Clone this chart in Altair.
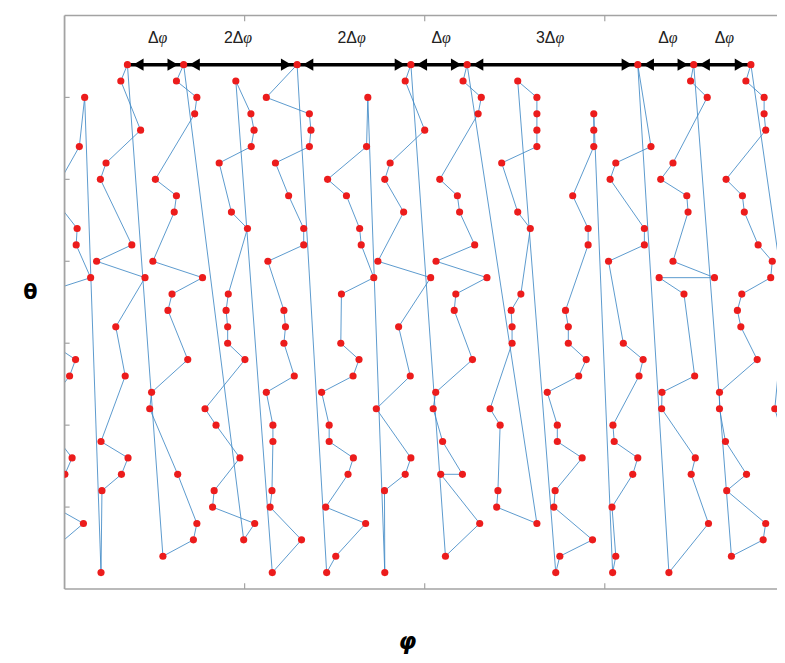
import altair as alt
import pandas as pd

# ---- trajectory columns (phi in degrees, theta = sample row), listed bottom -> top ----
c0_phi = [-6.3, 6.0, -3.2, 0.1, 2.4, -1.6, -6.3, 1.6, 3.5, -4.4, -7.9, 8.3, 3.7, 4.0, -4.1, 4.7, 6.4]
c0_theta = [30, 28, 27, 25, 24, 23, 21, 19, 18, 17, 14, 13, 11, 10, 8, 5, 2]
c1_phi = [11.6, 11.9, 18.1, 20.2, 11.6, 19.3, 16.3, 25.6, 10.2, 21.4, 11.4, 13.2, 24.2, 17.9, 20.0]
c1_theta = [31, 26, 25, 24, 23, 19, 16, 13, 12, 11, 7, 6, 4, 1, 0]
c2_phi = [31.3, 41.0, 42.1, 36.0, 27.1, 27.7, 39.2, 32.9, 34.2, 43.9, 28.1, 34.9, 35.6, 28.9, 41.4, 42.1, 35.6, 37.9]
c2_theta = [30, 29, 28, 25, 21, 20, 18, 15, 14, 13, 12, 9, 8, 7, 3, 2, 1, 0]
c3_phi = [57.0, 60.5, 47.1, 47.6, 55.8, 48.2, 44.7, 57.4, 51.9, 51.9, 51.4, 52.1, 58.2, 53.1, 49.2, 59.4, 60.3, 59.3, 54.5]
c3_theta = [29, 28, 27, 26, 24, 22, 21, 18, 17, 16, 15, 14, 10, 9, 6, 5, 4, 3, 1]
c4_phi = [66.1, 75.4, 65.4, 66.0, 66.3, 66.3, 64.2, 73.1, 69.8, 70.3, 69.8, 64.7, 76.1, 76.1, 71.3, 67.1, 77.9, 78.4, 77.9, 64.2, 74.0]
c4_theta = [31, 29, 27, 26, 23, 22, 20, 19, 17, 16, 15, 12, 11, 10, 8, 6, 5, 4, 3, 2, 0]
c5_phi = [83.4, 86.3, 95.8, 83.1, 90.2, 91.9, 84.2, 84.2, 81.8, 91.8, 93.7, 87.9, 88.1, 98.4, 94.4, 93.9, 89.7, 83.7, 96.1, 96.5]
c5_theta = [31, 30, 28, 27, 25, 24, 23, 22, 20, 19, 18, 17, 14, 13, 11, 10, 8, 7, 5, 2]
c6_phi = [101.9, 101.8, 108.4, 110.2, 99.2, 110.0, 106.3, 116.5, 99.7, 107.9, 101.9, 103.6, 114.6, 108.4, 110.2]
c6_theta = [31, 26, 25, 24, 21, 19, 16, 13, 12, 9, 7, 6, 4, 1, 0]
c7_phi = [121.2, 132.1, 119.7, 126.6, 120.3, 117.3, 118.1, 129.8, 124.0, 124.5, 134.4, 118.2, 130.5, 125.7, 125.0, 119.4, 131.6, 132.6, 126.8, 128.1]
c7_theta = [30, 28, 25, 25, 23, 21, 20, 18, 15, 14, 13, 12, 11, 9, 8, 7, 3, 2, 1, 0]
c8_phi = [150.3, 137.5, 137.9, 138.6, 135.4, 142.4, 142.4, 142.1, 145.2, 148.2, 144.2, 139.1, 150.3, 150.3, 150.3, 150.3, 144.2]
c8_theta = [28, 27, 26, 22, 21, 17, 16, 15, 14, 10, 9, 6, 5, 4, 3, 2, 1]
c9_phi = [156.3, 157.6, 168.0, 155.7, 156.1, 164.7, 156.8, 156.8, 153.6, 163.6, 166.0, 160.3, 160.3, 159.4, 166.6, 166.6, 161.7, 168.4, 168.4, 168.4]
c9_theta = [31, 30, 29, 27, 26, 24, 23, 22, 20, 19, 18, 17, 16, 15, 11, 10, 8, 5, 4, 3]
c10_phi = [174.4, 175.4, 174.2, 180.8, 182.4, 174.9, 174.5, 182.8, 184.1, 177.8, 173.1, 184.5, 184.5, 173.6, 175.4, 186.6, 182.4]
c10_theta = [31, 30, 27, 25, 24, 23, 22, 19, 18, 17, 12, 11, 10, 7, 6, 5, 0]
c11_phi = [192.3, 204.9, 199.4, 200.7, 190.0, 190.1, 200.5, 197.1, 189.2, 206.8, 193.6, 198.4, 198.0, 189.7, 193.6, 204.5, 199.2, 200.2]
c11_theta = [31, 28, 25, 24, 21, 20, 19, 14, 13, 13, 12, 9, 8, 7, 6, 2, 1, 0]
c12_phi = [212.2, 222.3, 223.1, 210.7, 217.0, 210.3, 208.4, 208.4, 220.4, 215.2, 214.1, 215.5, 224.7, 225.2, 220.7, 216.3, 215.7, 210.5, 223.1, 222.6, 222.6, 216.8, 218.4]
c12_theta = [30, 29, 28, 26, 25, 23, 21, 20, 18, 16, 15, 14, 13, 12, 11, 9, 8, 7, 4, 3, 2, 1, 0]
c13_phi = [241.5, 226.0, 236.4]
c13_theta = [31, 21, 0]

# ---- annotation arrows between the top-row samples ----
arrow_start = [20.0, 37.9, 74.0, 110.2, 128.1, 182.4, 200.2]
arrow_end = [37.9, 74.0, 110.2, 128.1, 182.4, 200.2, 218.4]
arrow_prefix = ["Δ", "2Δ", "2Δ", "Δ", "3Δ", "Δ", "Δ"]

# ---- frame ticks ----
phi_ticks = [57.3, 114.6, 171.9]
theta_ticks = [2, 7, 12, 17, 22, 27]
PHI_MAX = 226.7
THETA_MIN, THETA_MAX = -3, 32

cols_phi = [c0_phi, c1_phi, c2_phi, c3_phi, c4_phi, c5_phi, c6_phi, c7_phi,
            c8_phi, c9_phi, c10_phi, c11_phi, c12_phi, c13_phi]
cols_theta = [c0_theta, c1_theta, c2_theta, c3_theta, c4_theta, c5_theta, c6_theta, c7_theta,
              c8_theta, c9_theta, c10_theta, c11_theta, c12_theta, c13_theta]

records = []
seq = 0
for k, (ps, ts) in enumerate(zip(cols_phi, cols_theta)):
    for p, t in zip(ps, ts):
        records.append({"phi": p, "theta": t, "seq": seq, "col": k})
        seq += 1
df = pd.DataFrame(records)

arrows = pd.DataFrame({"phi": arrow_start, "phi2": arrow_end, "prefix": arrow_prefix,
                       "theta": [0] * len(arrow_start), "label_theta": [-1.65] * len(arrow_start)})

xs = alt.Scale(domain=[0, PHI_MAX], nice=False, zero=False)
ys = alt.Scale(domain=[THETA_MIN, THETA_MAX], reverse=True, nice=False, zero=False)

frame_col = "#a3a3a3"

x_axis = alt.Axis(title="φ", labels=False, ticks=False, grid=False, domain=False,
                  titleFont="DejaVu Sans", titleFontSize=23, titleFontWeight="bold",
                  titleFontStyle="italic", titleColor="black", titleX=345, titleY=53,
                  titleAlign="center", titleBaseline="middle")
y_axis = alt.Axis(title="θ", labels=False, ticks=False, grid=False, domain=False,
                  titleFont="DejaVu Sans", titleFontSize=21, titleFontWeight="bold",
                  titleColor="black", titleAngle=0, titleX=-35, titleY=279,
                  titleAlign="center", titleBaseline="middle")

lines = alt.Chart(df).mark_line(color="#3f88c5", strokeWidth=1.0, opacity=0.85, clip=True).encode(
    x=alt.X("phi:Q", scale=xs, axis=x_axis),
    y=alt.Y("theta:Q", scale=ys, axis=y_axis),
    order=alt.Order("seq:Q"),
)

points = alt.Chart(df).mark_circle(size=52, color="#ec1c1c", opacity=1, clip=True).encode(
    x=alt.X("phi:Q", scale=xs, axis=None),
    y=alt.Y("theta:Q", scale=ys, axis=None),
)

shafts = alt.Chart(arrows).mark_rule(color="black", strokeWidth=3.5).encode(
    x=alt.X("phi:Q", scale=xs, axis=None),
    x2="phi2:Q",
    y=alt.Y("theta:Q", scale=ys, axis=None),
)
heads_left = alt.Chart(arrows).mark_point(shape="triangle-left", filled=True, size=150,
                                          color="black", opacity=1, xOffset=11).encode(
    x=alt.X("phi:Q", scale=xs, axis=None),
    y=alt.Y("theta:Q", scale=ys, axis=None),
)
heads_right = alt.Chart(arrows).mark_point(shape="triangle-right", filled=True, size=150,
                                           color="black", opacity=1, xOffset=-11).encode(
    x=alt.X("phi2:Q", scale=xs, axis=None),
    y=alt.Y("theta:Q", scale=ys, axis=None),
)
label_base = alt.Chart(arrows).transform_calculate(mid="(datum.phi + datum.phi2) / 2")
label_prefix = label_base.mark_text(align="right", baseline="middle", dx=3, fontSize=16,
                                    font="Liberation Sans", color="#222222").encode(
    x=alt.X("mid:Q", scale=xs, axis=None),
    y=alt.Y("label_theta:Q", scale=ys, axis=None),
    text="prefix:N",
)
label_phi = label_base.mark_text(align="left", baseline="middle", dx=3, fontSize=16,
                                 font="Liberation Serif", fontStyle="italic", color="#222222",
                                 text="φ").encode(
    x=alt.X("mid:Q", scale=xs, axis=None),
    y=alt.Y("label_theta:Q", scale=ys, axis=None),
)

# frame: left, bottom and top borders plus inward ticks
frame_h = alt.Chart(pd.DataFrame({"phi": [0, 0], "phi2": [PHI_MAX, PHI_MAX],
                                  "theta": [THETA_MIN, THETA_MAX]})).mark_rule(
    color=frame_col, strokeWidth=1.5).encode(
    x=alt.X("phi:Q", scale=xs, axis=None), x2="phi2:Q",
    y=alt.Y("theta:Q", scale=ys, axis=None),
)
frame_v = alt.Chart(pd.DataFrame({"phi": [0], "theta": [THETA_MIN], "theta2": [THETA_MAX]})).mark_rule(
    color=frame_col, strokeWidth=1.8).encode(
    x=alt.X("phi:Q", scale=xs, axis=None),
    y=alt.Y("theta:Q", scale=ys, axis=None), y2="theta2:Q",
)
left_ticks = alt.Chart(pd.DataFrame({"theta": theta_ticks, "phi": [0] * len(theta_ticks),
                                     "phi2": [1.6] * len(theta_ticks)})).mark_rule(
    color=frame_col, strokeWidth=1.2).encode(
    x=alt.X("phi:Q", scale=xs, axis=None), x2="phi2:Q",
    y=alt.Y("theta:Q", scale=ys, axis=None),
)
bottom_ticks = alt.Chart(pd.DataFrame({"phi": phi_ticks, "theta": [THETA_MAX] * 3,
                                       "theta2": [THETA_MAX - 0.35] * 3})).mark_rule(
    color=frame_col, strokeWidth=1.2).encode(
    x=alt.X("phi:Q", scale=xs, axis=None),
    y=alt.Y("theta:Q", scale=ys, axis=None), y2="theta2:Q",
)
top_ticks = alt.Chart(pd.DataFrame({"phi": phi_ticks, "theta": [THETA_MIN] * 3,
                                    "theta2": [THETA_MIN + 0.35] * 3})).mark_rule(
    color=frame_col, strokeWidth=1.2).encode(
    x=alt.X("phi:Q", scale=xs, axis=None),
    y=alt.Y("theta:Q", scale=ys, axis=None), y2="theta2:Q",
)

chart = alt.layer(
    lines, frame_h, frame_v, left_ticks, bottom_ticks, top_ticks,
    shafts, heads_left, heads_right, points, label_prefix, label_phi,
).resolve_axis(x="independent", y="independent").properties(
    width=718, height=578,
    autosize=alt.AutoSizeParams(type="none"),
    padding={"left": 57, "top": 5, "right": 0, "bottom": 69},
    background="white",
).configure_view(stroke=None)

chart.save("out.html", embed_options={"renderer": "svg", "actions": False})
